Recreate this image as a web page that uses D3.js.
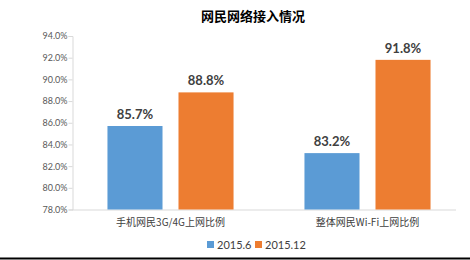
<!DOCTYPE html>
<html>
<head>
<meta charset="utf-8">
<script src="https://cdn.jsdelivr.net/npm/d3@7"></script>
<style>
  body { margin: 0; background: #fff; }
  svg { display: block; }
</style>
</head>
<body>
<div id="chart"></div>
<script>
var categories = ["手机网民3G/4G上网比例", "整体网民Wi-Fi上网比例"];
var seriesNames = ["2015.6", "2015.12"];
var values2015_6 = [85.7, 83.2];
var values2015_12 = [88.8, 91.8];
var yTicks = [78, 80, 82, 84, 86, 88, 90, 92, 94];
var colors = ["#5b9bd5", "#ed7d31"];

var width = 470, height = 260;

var svg = d3.select("#chart").append("svg")
    .attr("width", width)
    .attr("height", height);

var y = d3.scaleLinear().domain([78, 94]).range([209.5, 36]);

var x0 = d3.scaleBand().domain(categories).range([72, 466])
    .paddingInner(0.36).paddingOuter(0.18);
var x1 = d3.scaleBand().domain(seriesNames).range([0, x0.bandwidth()])
    .paddingInner(0.225);

// title
svg.append("text")
    .attr("x", 253).attr("y", 21)
    .attr("text-anchor", "middle")
    .style("font-family", "'Noto Sans CJK SC', sans-serif")
    .style("font-weight", "bold")
    .style("font-size", "13px")
    .style("fill", "#000")
    .text("网民网络接入情况");

// y axis
var yAxis = d3.axisLeft(y).tickValues(yTicks).tickSize(4)
    .tickFormat(function (d) { return d.toFixed(1) + "%"; });
var gy = svg.append("g").attr("transform", "translate(72.5,0)").call(yAxis);
gy.select(".domain").attr("stroke", "#d9d9d9");
gy.selectAll(".tick line").attr("stroke", "#d9d9d9");
gy.selectAll(".tick text")
    .attr("x", -5)
    .style("font-family", "Lato, sans-serif")
    .style("font-size", "9px")
    .style("fill", "#595959");

// baseline
svg.append("line")
    .attr("x1", 72).attr("x2", 456)
    .attr("y1", y(78) + 0.5).attr("y2", y(78) + 0.5)
    .attr("stroke", "#d9d9d9");

var rows = categories.map(function (c, i) {
  return { cat: c, vals: [
    { s: seriesNames[0], v: values2015_6[i], color: colors[0] },
    { s: seriesNames[1], v: values2015_12[i], color: colors[1] }
  ]};
});

var groups = svg.selectAll(".grp").data(rows).enter().append("g")
    .attr("class", "grp")
    .attr("transform", function (d) { return "translate(" + x0(d.cat) + ",0)"; });

groups.selectAll("rect").data(function (d) { return d.vals; }).enter().append("rect")
    .attr("x", function (d) { return x1(d.s); })
    .attr("y", function (d) { return y(d.v); })
    .attr("width", x1.bandwidth())
    .attr("height", function (d) { return y(78) - y(d.v); })
    .attr("fill", function (d) { return d.color; });

groups.selectAll(".lbl").data(function (d) { return d.vals; }).enter().append("text")
    .attr("class", "lbl")
    .attr("x", function (d) { return x1(d.s) + x1.bandwidth() / 2; })
    .attr("y", function (d) { return y(d.v) - 7; })
    .attr("text-anchor", "middle")
    .style("font-family", "Lato, sans-serif")
    .style("font-weight", "bold")
    .style("font-size", "13px")
    .style("fill", "#404040")
    .text(function (d) { return d.v.toFixed(1) + "%"; });

// category labels
svg.selectAll(".cat").data(categories).enter().append("text")
    .attr("class", "cat")
    .attr("x", function (d) { return x0(d) + x0.bandwidth() / 2; })
    .attr("y", 226)
    .attr("text-anchor", "middle")
    .style("font-family", "'Noto Sans CJK SC', sans-serif")
    .style("font-size", "10px")
    .style("fill", "#404040")
    .text(function (d) { return d; });

// legend
var legendX = [207, 255];
var legend = svg.selectAll(".leg").data(seriesNames).enter().append("g")
    .attr("class", "leg")
    .attr("transform", function (d, i) { return "translate(" + legendX[i] + ",241)"; });
legend.append("rect")
    .attr("width", 7).attr("height", 7)
    .attr("fill", function (d, i) { return colors[i]; });
legend.append("text")
    .attr("x", 10).attr("y", 7.5)
    .style("font-family", "Lato, sans-serif")
    .style("font-size", "11px")
    .style("fill", "#404040")
    .text(function (d) { return d; });

// bottom border line
svg.append("line")
    .attr("x1", 0).attr("x2", width)
    .attr("y1", 258.5).attr("y2", 258.5)
    .attr("stroke", "#000").attr("stroke-width", 2);
</script>
</body>
</html>
